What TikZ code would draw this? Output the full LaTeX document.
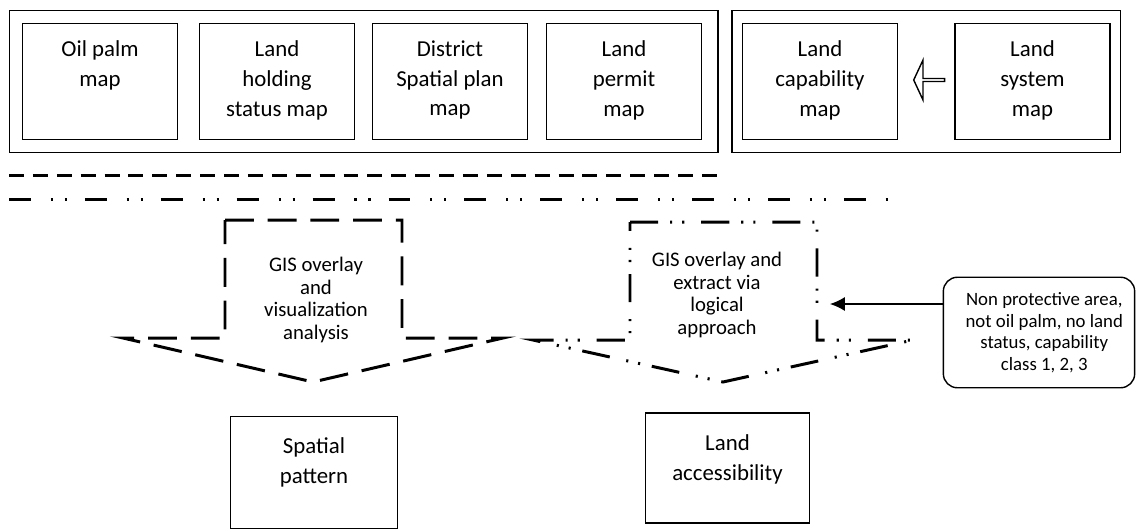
\documentclass[tikz,border=0pt]{standalone}
\usepackage{fontspec}
\setmainfont{Carlito}
\usepackage{tikz}
\usetikzlibrary{arrows.meta}
\usetikzlibrary{positioning}
\usetikzlibrary{fit}
\usetikzlibrary{shapes.arrows}
\tikzset{>=latex}
\tikzset{
  mapbox/.style = {rectangle, draw, line width=0.8pt, minimum width=88.4pt, minimum height=66.3pt, inner sep=0pt},
  maptext/.style = {align=center, inner sep=0pt, font=\fontsize{13}{17}\selectfont},
  groupbox/.style = {rectangle, draw, line width=0.8pt, inner sep=7pt},
  hollowarrow/.style = {single arrow, draw, line width=0.8pt, shape border rotate=180, minimum height=17.6pt, minimum width=22.7pt, single arrow head extend=5pt, single arrow tip angle=130, inner sep=0pt},
  dashsep/.style = {line width=1.7pt, dash pattern=on 8.5pt off 5.1pt},
  dotsep/.style = {line width=1.7pt, dash pattern=on 12.5pt off 11.3pt on 1.2pt off 6.8pt on 1.2pt off 10.2pt},
  dashflow/.style = {line width=1.7pt, dash pattern=on 16.4pt off 7.9pt},
  dotflow/.style = {line width=1.7pt, dash pattern=on 16pt off 6.8pt on 1.2pt off 5.7pt on 1.2pt off 9.6pt},
  flowtext/.style = {align=center, inner sep=0pt, font=\fontsize{11.8}{13}\selectfont},
  notebox/.style = {rectangle, draw, rounded corners=8pt, line width=0.8pt, minimum width=108.9pt, minimum height=62.9pt, align=center, inner sep=0pt, font=\fontsize{10.7}{12.3}\selectfont},
  resultbox/.style = {rectangle, draw, line width=0.8pt, inner sep=0pt}
}

\begin{document}
\begin{tikzpicture}[x=0.02cm, y=-0.02cm]
\useasboundingbox (0,0) rectangle (1137,529);

% input maps
\node [mapbox] (oilpalm) at (100, 81.5) {};
\node [maptext, below=10pt of oilpalm.north] (oilpalmtxt) {Oil palm\\map};
\node [mapbox] (holding) at (277, 81.5) {};
\node [maptext, below=10pt of holding.north] (holdingtxt) {Land\\holding\\status map};
\node [mapbox] (spatialplan) at (450, 81.5) {};
\node [maptext, below=10pt of spatialplan.north] (spatialplantxt) {District\\Spatial plan\\map};
\node [mapbox] (permit) at (624, 81.5) {};
\node [maptext, below=10pt of permit.north] (permittxt) {Land\\permit\\map};
\node [mapbox] (capability) at (820, 81.5) {};
\node [maptext, below=10pt of capability.north] (capabilitytxt) {Land\\capability\\map};
\node [mapbox] (landsystem) at (1032.5, 81.5) {};
\node [maptext, below=10pt of landsystem.north] (landsystemtxt) {Land\\system\\map};
\node [groupbox, inner xsep=8pt, xshift=1pt, fit=(oilpalm)(permit)] (groupA) {};
\node [groupbox, inner xsep=5.5pt, fit=(capability)(landsystem)] (groupB) {};
\node [hollowarrow] (systemarrow) at (929.5, 80) {};

% separators
\draw [dashsep] (9, 175) -- (719, 175);
\draw [dotsep] (9, 199) -- (888, 199);

% overlay steps
\draw [dashflow] (225, 220) -- (402, 220) -- (402, 338) -- (503, 338) -- (313, 382) -- (123, 338) -- (225, 338) -- cycle;
\node [flowtext] (overlaytxt) at (316, 300) {GIS overlay\\and\\visualization\\analysis};
\draw [dotflow] (630, 222) -- (817, 222) -- (817, 340) -- (913, 340) -- (723, 382) -- (533, 340) -- (630, 340) -- cycle;
\node [flowtext] (extracttxt) at (717, 295) {GIS overlay and\\extract via\\logical\\approach};

% criteria
\node [notebox] (criteria) at (1039, 332.5) {\hspace*{6pt}Non protective area,\\\hspace*{6pt}not oil palm, no land\\\hspace*{6pt}status, capability\\\hspace*{6pt}class 1, 2, 3};
\coordinate (extractin) at (830, 304);
\draw [-{Latex[length=8.5pt, width=8pt]}, line width=0.7pt] (criteria.west |- extractin) -- (extractin);

% results
\node [resultbox, minimum width=95.2pt, minimum height=64pt] (pattern) at (314, 472.5) {};
\node [maptext, below=12.5pt of pattern.north] (patterntxt) {Spatial\\pattern};
\node [resultbox, minimum width=93.5pt, minimum height=62.4pt] (access) at (727.5, 468) {};
\node [maptext, below=12.5pt of access.north] (accesstxt) {Land\\accessibility};
\end{tikzpicture}
\end{document}
